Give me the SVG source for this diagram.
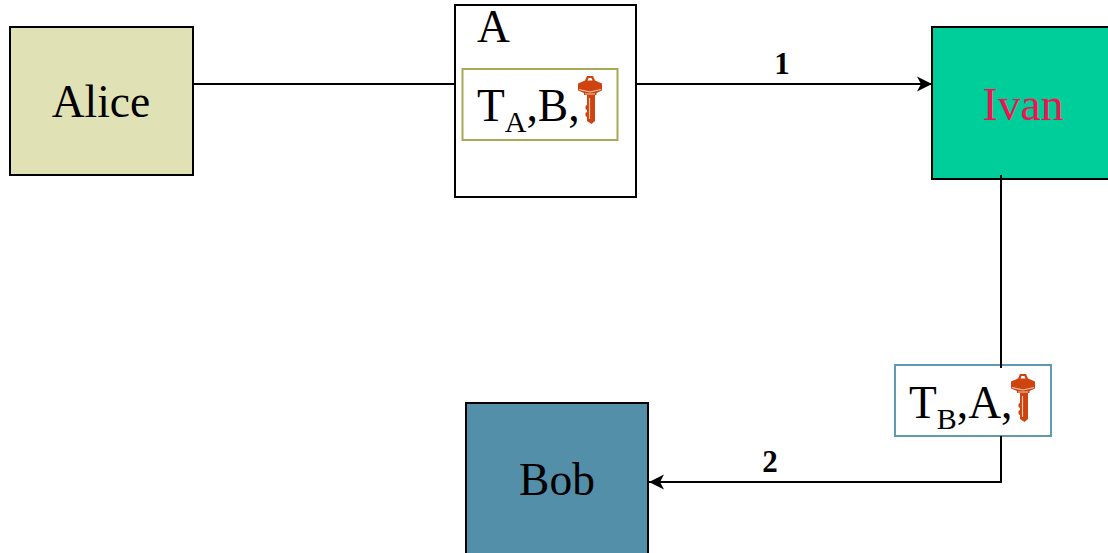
<svg xmlns="http://www.w3.org/2000/svg" width="1108" height="553" viewBox="0 0 1108 553">
<style>
text{font-family:"Liberation Serif","Times New Roman",serif;fill:#000}
.b{stroke:#000;stroke-width:2}
.l{font-size:45.500px;text-anchor:middle}
.t{font-size:45.500px}
.s{font-size:30px}
.n{font-size:31px;font-weight:bold;text-anchor:middle}
.c{fill:none;stroke:#000;stroke-width:2}
</style>
<defs>
<marker id="arr" markerUnits="userSpaceOnUse" markerWidth="18" markerHeight="16" refX="16" refY="8" orient="auto"><path d="M1 0.500L16 8L1 15.500L5 8Z" fill="#000"/></marker>
<g id="key">
<path d="M-5 -12.500L-3 -17H3L5 -12.500L12 -9.500V-2.500L6.500 0V2H5V28L1.500 31L-3 28V24L-4.500 23V20L-3 19V17L-4.500 16V13L-3 12V2H-6V0L-12 -2.500V-9.500Z" fill="#cf4310"/>
<path d="M-2.500 -12.500L-1.500 -15H1.500L2.500 -12.500Z" fill="#fff"/>
<path d="M-11 -3.500L0 -1L11 -3.500M-5 1H5M-0.500 5V26" fill="none" stroke="#f3c9a8" stroke-width="1.200"/>
</g>
</defs>
<g id="alice"><rect class="b" x="10" y="27" width="183" height="148" fill="#e0e2b6"/><text class="l" x="101" y="117">Alice</text></g>
<g id="a-box"><rect class="b" x="455" y="5" width="181" height="192" fill="#fff"/><text class="t" x="477" y="42">A</text></g>
<g id="ta-msg"><rect x="462.500" y="69" width="155" height="71" fill="#fff" stroke="#a9a855" stroke-width="2"/><text class="t" x="477" y="121">T<tspan class="s" dy="11">A</tspan><tspan dy="-11">,B,</tspan></text><use href="#key" x="590" y="93"/></g>
<g id="ivan"><rect class="b" x="932" y="27" width="178" height="152" fill="#00ce9a"/><text class="l" x="1023" y="120" style="fill:#f5104f">Ivan</text></g>
<g id="tb-msg"><rect x="895" y="365" width="156" height="71" fill="#fff" stroke="#5f9ab0" stroke-width="2"/><text class="t" x="909" y="418">T<tspan class="s" dy="11">B</tspan><tspan dy="-11">,A,</tspan></text><use href="#key" x="1023" y="391"/></g>
<g id="bob"><rect class="b" x="466" y="403" width="182" height="152" fill="#548faa"/><text class="l" x="557" y="495">Bob</text></g>
<g id="connectors">
<path class="c" d="M193 84H455"/>
<path class="c" d="M636 84H932" marker-end="url(#arr)"/>
<path class="c" d="M1001 175V368"/>
<path class="c" d="M1001 436V482H649" marker-end="url(#arr)"/>
</g>
<g id="label-1"><text class="n" x="782" y="74">1</text></g>
<g id="label-2"><text class="n" x="770" y="472">2</text></g>
</svg>
